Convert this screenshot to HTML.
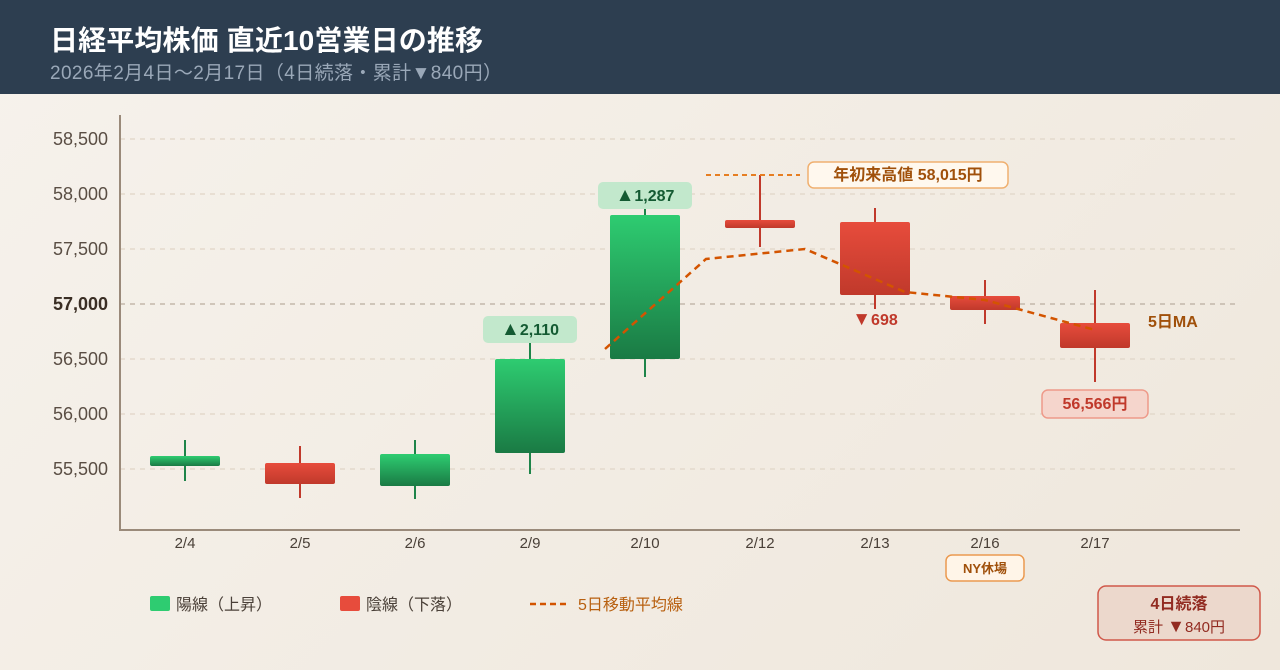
<!DOCTYPE html>
<html><head><meta charset="utf-8"><style>
body{margin:0;width:1280px;height:670px;overflow:hidden;font-family:"Liberation Sans","Noto Sans CJK JP",sans-serif;background:linear-gradient(135deg,#f6f2ec,#efe7dc);}
.hd{position:absolute;left:0;top:0;width:1280px;height:94px;background:#2d3e50;}
</style></head><body>
<div class="hd"></div>
<svg width="1280" height="670" style="position:absolute;left:0;top:0" font-family="Liberation Sans, Noto Sans CJK JP, sans-serif">
<defs>
<linearGradient id="g" x1="0" y1="0" x2="0" y2="1"><stop offset="0" stop-color="#2ecc71"/><stop offset="1" stop-color="#1a7a44"/></linearGradient>
<linearGradient id="r" x1="0" y1="0" x2="0" y2="1"><stop offset="0" stop-color="#e74c3c"/><stop offset="1" stop-color="#c0392b"/></linearGradient>
</defs>
<text x="50" y="50" font-size="28" font-weight="bold" fill="#fff" textLength="433">日経平均株価 直近10営業日の推移</text>
<text x="50" y="79" font-size="19" fill="#9aa8b8" textLength="452">2026年2月4日〜2月17日（4日続落・累計▼840円）</text>
<g stroke-dasharray="5,5" stroke="#e3d9cc" stroke-width="1.5">
<line x1="120" y1="139" x2="1240" y2="139"/><line x1="120" y1="194" x2="1240" y2="194"/><line x1="120" y1="249" x2="1240" y2="249"/><line x1="120" y1="359" x2="1240" y2="359"/><line x1="120" y1="414" x2="1240" y2="414"/><line x1="120" y1="469" x2="1240" y2="469"/>
<line x1="120" y1="304" x2="1240" y2="304" stroke="#c3b8ab"/>
</g>
<line x1="120" y1="115" x2="120" y2="530" stroke="#9a8a7a" stroke-width="2"/>
<line x1="119" y1="530" x2="1240" y2="530" stroke="#9a8a7a" stroke-width="2"/>
<g font-size="18" fill="#5a4e44" text-anchor="end">
<text x="108" y="145">58,500</text><text x="108" y="200">58,000</text><text x="108" y="255">57,500</text>
<text x="108" y="310" font-weight="bold" fill="#3a2e24">57,000</text>
<text x="108" y="365">56,500</text><text x="108" y="420">56,000</text><text x="108" y="475">55,500</text>
</g>
<g font-size="15" fill="#4a4038" text-anchor="middle">
<text x="185" y="548">2/4</text><text x="300" y="548">2/5</text><text x="415" y="548">2/6</text><text x="530" y="548">2/9</text><text x="645" y="548">2/10</text><text x="760" y="548">2/12</text><text x="875" y="548">2/13</text><text x="985" y="548">2/16</text><text x="1095" y="548">2/17</text>
</g>
<g stroke-width="2">
<line x1="185" y1="440" x2="185" y2="481" stroke="#1e8449"/><rect x="150" y="456" width="70" height="10" rx="2" fill="url(#g)"/>
<line x1="300" y1="446" x2="300" y2="498" stroke="#c0392b"/><rect x="265" y="463" width="70" height="21" rx="2" fill="url(#r)"/>
<line x1="415" y1="440" x2="415" y2="499" stroke="#1e8449"/><rect x="380" y="454" width="70" height="32" rx="2" fill="url(#g)"/>
<line x1="530" y1="334" x2="530" y2="474" stroke="#1e8449"/><rect x="495" y="359" width="70" height="94" rx="2" fill="url(#g)"/>
<line x1="645" y1="197" x2="645" y2="377" stroke="#1e8449"/><rect x="610" y="215" width="70" height="144" rx="2" fill="url(#g)"/>
<line x1="760" y1="175" x2="760" y2="247" stroke="#c0392b"/><rect x="725" y="220" width="70" height="8" rx="2" fill="url(#r)"/>
<line x1="875" y1="208" x2="875" y2="309" stroke="#c0392b"/><rect x="840" y="222" width="70" height="73" rx="2" fill="url(#r)"/>
<line x1="985" y1="280" x2="985" y2="324" stroke="#c0392b"/><rect x="950" y="296" width="70" height="14" rx="2" fill="url(#r)"/>
<line x1="1095" y1="290" x2="1095" y2="382" stroke="#c0392b"/><rect x="1060" y="323" width="70" height="25" rx="2" fill="url(#r)"/>
</g>
<polyline points="605,349 706,259 805,249 905,292 985,300 1095,330" fill="none" stroke="#d35400" stroke-width="2.5" stroke-dasharray="7,5"/>
<line x1="706" y1="175" x2="800" y2="175" stroke="#e67e22" stroke-width="2" stroke-dasharray="5,4"/>
<rect x="808" y="162" width="200" height="26" rx="6" fill="#fff8ee" stroke="#f0b070" stroke-width="1.5"/>
<text x="908" y="180" font-size="16" font-weight="bold" fill="#a0500a" text-anchor="middle">年初来高値 58,015円</text>
<rect x="483" y="316" width="94" height="27" rx="5" fill="#c2e8cc"/>
<text x="530" y="335" font-size="16" font-weight="bold" fill="#145a32" text-anchor="middle"><tspan font-size="19">▲</tspan>2,110</text>
<rect x="598" y="182" width="94" height="27" rx="5" fill="#c2e8cc"/>
<text x="645" y="201" font-size="16" font-weight="bold" fill="#145a32" text-anchor="middle"><tspan font-size="19">▲</tspan>1,287</text>
<text x="875" y="325" font-size="16" font-weight="bold" fill="#c0392b" text-anchor="middle"><tspan font-size="19">▼</tspan>698</text>
<text x="1148" y="327" font-size="16" font-weight="bold" fill="#a0500a">5日MA</text>
<rect x="1042" y="390" width="106" height="28" rx="6" fill="#f5d5cc" stroke="#ee9a8a" stroke-width="1.5"/>
<text x="1095" y="409" font-size="16" font-weight="bold" fill="#c0392b" text-anchor="middle">56,566円</text>
<rect x="946" y="555" width="78" height="26" rx="6" fill="#fff5e8" stroke="#eb9a50" stroke-width="1.5"/>
<text x="985" y="573" font-size="13" font-weight="bold" fill="#a0500a" text-anchor="middle">NY休場</text>
<rect x="150" y="596" width="20" height="15" rx="2" fill="#2ecc71"/>
<text x="176" y="610" font-size="16" fill="#4a4038">陽線（上昇）</text>
<rect x="340" y="596" width="20" height="15" rx="2" fill="#e74c3c"/>
<text x="366" y="610" font-size="16" fill="#4a4038">陰線（下落）</text>
<line x1="530" y1="604" x2="568" y2="604" stroke="#d35400" stroke-width="2.5" stroke-dasharray="6,4"/>
<text x="578" y="610" font-size="16" fill="#b86010">5日移動平均線</text>
<rect x="1098" y="586" width="162" height="54" rx="8" fill="#ecd8cc" stroke="#d0584a" stroke-width="1.5"/>
<text x="1179" y="609" font-size="16" font-weight="bold" fill="#922b21" text-anchor="middle">4日続落</text>
<text x="1179" y="632" font-size="15" fill="#922b21" text-anchor="middle">累計 <tspan font-size="18">▼</tspan>840円</text>
</svg>
</body></html>
